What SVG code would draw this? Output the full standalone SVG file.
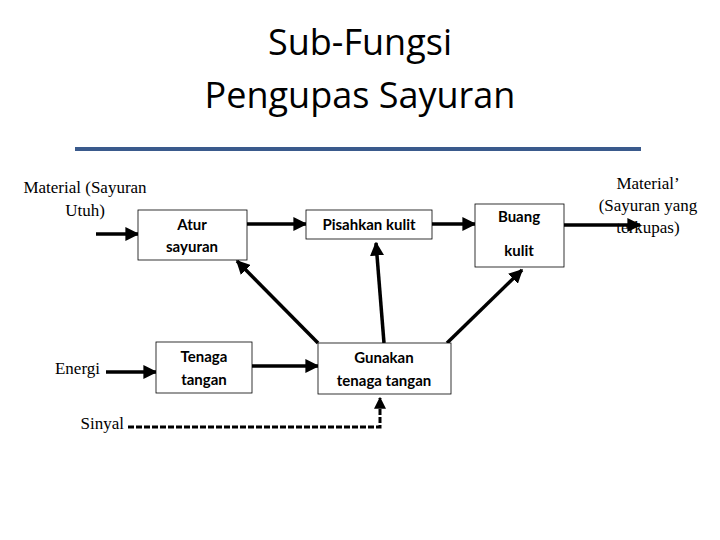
<svg xmlns="http://www.w3.org/2000/svg" width="720" height="540" viewBox="0 0 720 540">
<defs>
<marker id="ah" viewBox="0 0 10 10" refX="9" refY="5" markerWidth="4" markerHeight="4" orient="auto"><path d="M0,0 L10,5 L0,10 z" fill="#000"/></marker>
</defs>
<style>
.box{fill:#fff;stroke:#000;stroke-width:0.8}
.bl{font-family:Lato,"Open Sans",sans-serif;font-weight:bold;font-size:15px;text-anchor:middle}
.sf{font-family:"Liberation Serif",serif;font-size:17px}
.c{stroke:#000;stroke-width:3.5;fill:none;marker-end:url(#ah)}
.t{font-family:"Open Sans","Noto Sans",sans-serif;font-size:36px;text-anchor:middle}
</style>
<rect width="720" height="540" fill="#fff"/>
<text class="t" x="360" y="55">Sub-Fungsi</text>
<text class="t" x="360" y="108">Pengupas Sayuran</text>
<line x1="75" y1="149" x2="641" y2="149" stroke="#3A5A8C" stroke-width="4"/>
<g id="connectors">
<line class="c" x1="96" y1="234" x2="138" y2="234"/>
<line class="c" x1="247" y1="224" x2="306" y2="224"/>
<line class="c" x1="432" y1="224" x2="475" y2="224"/>
<line class="c" x1="563" y1="225" x2="640" y2="225"/>
<line class="c" x1="106" y1="372" x2="156" y2="372"/>
<line class="c" x1="252" y1="366" x2="318" y2="366"/>
<line class="c" x1="318" y1="343" x2="237" y2="261"/>
<line class="c" x1="384" y1="343" x2="376" y2="243"/>
<line class="c" x1="447" y1="343" x2="522" y2="270"/>
<path d="M128,427 H380 V398" stroke="#000" stroke-width="3" fill="none" stroke-dasharray="6,2" marker-end="url(#ah)"/>
</g>
<g id="atur"><rect class="box" x="138" y="210" width="109" height="50"/><text class="bl" x="192" y="230">Atur</text><text class="bl" x="192" y="252">sayuran</text></g>
<g id="pisahkan"><rect class="box" x="306" y="210" width="126" height="29"/><text class="bl" x="369" y="230">Pisahkan kulit</text></g>
<g id="buang"><rect class="box" x="475" y="204" width="89" height="63"/><text class="bl" x="519" y="222">Buang</text><text class="bl" x="519" y="256">kulit</text></g>
<g id="tenaga"><rect class="box" x="156" y="342" width="96" height="51"/><text class="bl" x="204" y="362">Tenaga</text><text class="bl" x="204" y="385">tangan</text></g>
<g id="gunakan"><rect class="box" x="318" y="343" width="133" height="51"/><text class="bl" x="384" y="363">Gunakan</text><text class="bl" x="384" y="386">tenaga tangan</text></g>
<g id="labels">
<text class="sf" x="85" y="193" text-anchor="middle">Material (Sayuran</text>
<text class="sf" x="85" y="216" text-anchor="middle">Utuh)</text>
<text class="sf" x="100" y="374" text-anchor="end">Energi</text>
<text class="sf" x="124" y="429" text-anchor="end">Sinyal</text>
<text class="sf" x="648" y="189" text-anchor="middle">Material’</text>
<text class="sf" x="648" y="211" text-anchor="middle">(Sayuran yang</text>
<text class="sf" x="648" y="233" text-anchor="middle">terkupas)</text>
</g>
</svg>
